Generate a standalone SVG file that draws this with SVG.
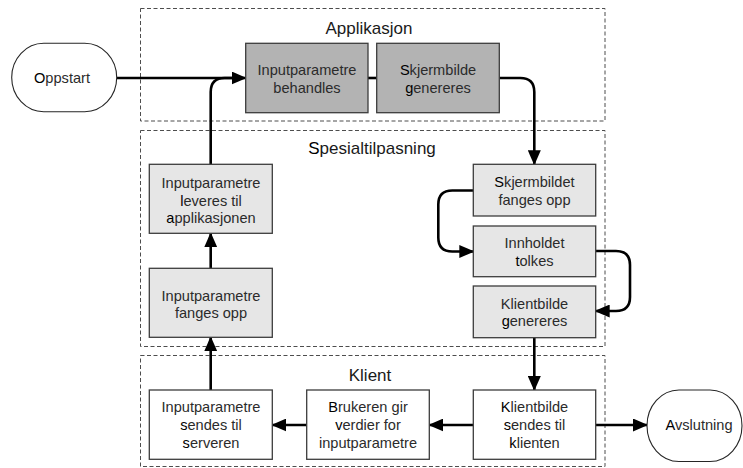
<svg xmlns="http://www.w3.org/2000/svg" width="743" height="468" viewBox="0 0 743 468">
  <style>
    .bg { fill: #ffffff; }
    .group { fill: none; stroke: #4d4d4d; stroke-width: 1; stroke-dasharray: 4 2.5; }
    .box { stroke: #3c3c3c; stroke-width: 1.3; }
    .dark { fill: #b3b3b3; }
    .light { fill: #e6e6e6; }
    .white { fill: #ffffff; }
    .term { fill: #ffffff; stroke: #262626; stroke-width: 1.1; }
    .lbl { font-family: "Liberation Sans", Arial, sans-serif; font-size: 14.6px; fill: #2b2b2b; text-anchor: middle; }
    .ttl { font-family: "Liberation Sans", Arial, sans-serif; font-size: 17px; fill: #1a1a1a; text-anchor: middle; }
    .f { fill: #000000; }
    .conn { fill: none; stroke: #000000; stroke-width: 2.6; }
  </style>
  <defs>
    <marker id="arrow" markerUnits="userSpaceOnUse" viewBox="0 0 15 13" markerWidth="15" markerHeight="13" refX="14" refY="6.5" orient="auto">
      <path d="M0,0 L15,6.5 L0,13 Z" fill="#000000"/>
    </marker>
  </defs>
  <rect class="bg" x="0" y="0" width="743" height="468"/>

  <g id="containers">
    <g id="grp-applikasjon">
      <rect class="group" x="140.5" y="8.5" width="464.5" height="112.5"/>
      <text class="ttl" x="369" y="34">Applikasjon</text>
    </g>
    <g id="grp-spesialtilpasning">
      <rect class="group" x="140.5" y="130.5" width="464.5" height="216"/>
      <text class="ttl" x="372" y="154"><tspan class="f">S</tspan>pesialtilpasning</text>
    </g>
    <g id="grp-klient">
      <rect class="group" x="140.5" y="355.5" width="464.5" height="111"/>
      <text class="ttl" x="370" y="381">Klient</text>
    </g>
  </g>

  <g id="connectors">
    <path class="conn" d="M116.7,78 L245.7,78" marker-end="url(#arrow)"/>
    <path class="conn" d="M210.7,164.3 L210.7,92 Q210.7,78 224.7,78 L232,78"/>
    <path class="conn" d="M368,78 L376.7,78"/>
    <path class="conn" d="M499.3,78 L520.3,78 Q534.3,78 534.3,92 L534.3,164.3" marker-end="url(#arrow)"/>
    <path class="conn" d="M473.3,190.5 L452.3,190.5 Q438.3,190.5 438.3,204.5 L438.3,237.5 Q438.3,251.5 452.3,251.5 L473.3,251.5" marker-end="url(#arrow)"/>
    <path class="conn" d="M595.7,251 L616,251 Q630,251 630,265 L630,297 Q630,311 616,311 L595.7,311" marker-end="url(#arrow)"/>
    <path class="conn" d="M534.3,337.7 L534.3,390" marker-end="url(#arrow)"/>
    <path class="conn" d="M595.7,425 L647,425" marker-end="url(#arrow)"/>
    <path class="conn" d="M473.3,425 L429.3,425" marker-end="url(#arrow)"/>
    <path class="conn" d="M306.7,425 L272.3,425" marker-end="url(#arrow)"/>
    <path class="conn" d="M210.7,390 L210.7,337.3" marker-end="url(#arrow)"/>
    <path class="conn" d="M210.7,268.3 L210.7,233.3" marker-end="url(#arrow)"/>
  </g>

  <g id="n-oppstart">
    <rect class="term" x="11.7" y="43.3" width="105" height="68.4" rx="32" ry="34.2"/>
    <text class="lbl" x="62" y="83"><tspan class="f">O</tspan>ppstart</text>
  </g>

  <g id="n-behandles">
    <rect class="box dark" x="245.7" y="43.3" width="122.3" height="69.4"/>
    <text class="lbl" x="307" y="75">Inputparametre</text>
    <text class="lbl" x="307" y="92.5">behandles</text>
  </g>

  <g id="n-skjermbilde-genereres">
    <rect class="box dark" x="376.7" y="43.3" width="122.6" height="69.4"/>
    <text class="lbl" x="438" y="75"><tspan class="f">S</tspan>kjermbilde</text>
    <text class="lbl" x="438" y="92.5"><tspan class="f">g</tspan>enereres</text>
  </g>

  <g id="n-leveres">
    <rect class="box light" x="149.3" y="164.3" width="123" height="69"/>
    <text class="lbl" x="211" y="188">Inputparametre</text>
    <text class="lbl" x="211" y="205.5"><tspan class="f">l</tspan>everes til</text>
    <text class="lbl" x="211" y="223"><tspan class="f">a</tspan>pplikasjonen</text>
  </g>

  <g id="n-fanges">
    <rect class="box light" x="149.3" y="268.3" width="123" height="69"/>
    <text class="lbl" x="211" y="300.5">Inputparametre</text>
    <text class="lbl" x="211" y="318">fanges opp</text>
  </g>

  <g id="n-skjermbildet">
    <rect class="box light" x="473.3" y="164.3" width="122.4" height="51.7"/>
    <text class="lbl" x="534.5" y="187"><tspan class="f">S</tspan>kjermbildet</text>
    <text class="lbl" x="534.5" y="204.5">fanges opp</text>
  </g>

  <g id="n-innholdet">
    <rect class="box light" x="473.3" y="226" width="122.4" height="50.7"/>
    <text class="lbl" x="534.5" y="248">Innholdet</text>
    <text class="lbl" x="534.5" y="265.5"><tspan class="f">t</tspan>olkes</text>
  </g>

  <g id="n-klientbilde-genereres">
    <rect class="box light" x="473.3" y="286" width="122.4" height="51.7"/>
    <text class="lbl" x="534.5" y="308.5">Klientbilde</text>
    <text class="lbl" x="534.5" y="326"><tspan class="f">g</tspan>enereres</text>
  </g>

  <g id="n-sendes-serveren">
    <rect class="box white" x="149.3" y="390" width="123" height="69.3"/>
    <text class="lbl" x="211" y="412">Inputparametre</text>
    <text class="lbl" x="211" y="430"><tspan class="f">s</tspan>endes til</text>
    <text class="lbl" x="211" y="448"><tspan class="f">s</tspan>erveren</text>
  </g>

  <g id="n-brukeren">
    <rect class="box white" x="306.7" y="390" width="122.6" height="69.3"/>
    <text class="lbl" x="368" y="412"><tspan class="f">B</tspan>rukeren gir</text>
    <text class="lbl" x="368" y="430"><tspan class="f">v</tspan>erdier for</text>
    <text class="lbl" x="368" y="448">inputparametre</text>
  </g>

  <g id="n-klientbilde-sendes">
    <rect class="box white" x="473.3" y="390" width="122.4" height="69.3"/>
    <text class="lbl" x="534.5" y="412"><tspan class="f">K</tspan>lientbilde</text>
    <text class="lbl" x="534.5" y="430"><tspan class="f">s</tspan>endes til</text>
    <text class="lbl" x="534.5" y="448"><tspan class="f">k</tspan>lienten</text>
  </g>

  <g id="n-avslutning">
    <rect class="term" x="647" y="390" width="95" height="71.5" rx="32" ry="35.7"/>
    <text class="lbl" x="699" y="430"><tspan class="f">A</tspan>vslutning</text>
  </g>
</svg>
